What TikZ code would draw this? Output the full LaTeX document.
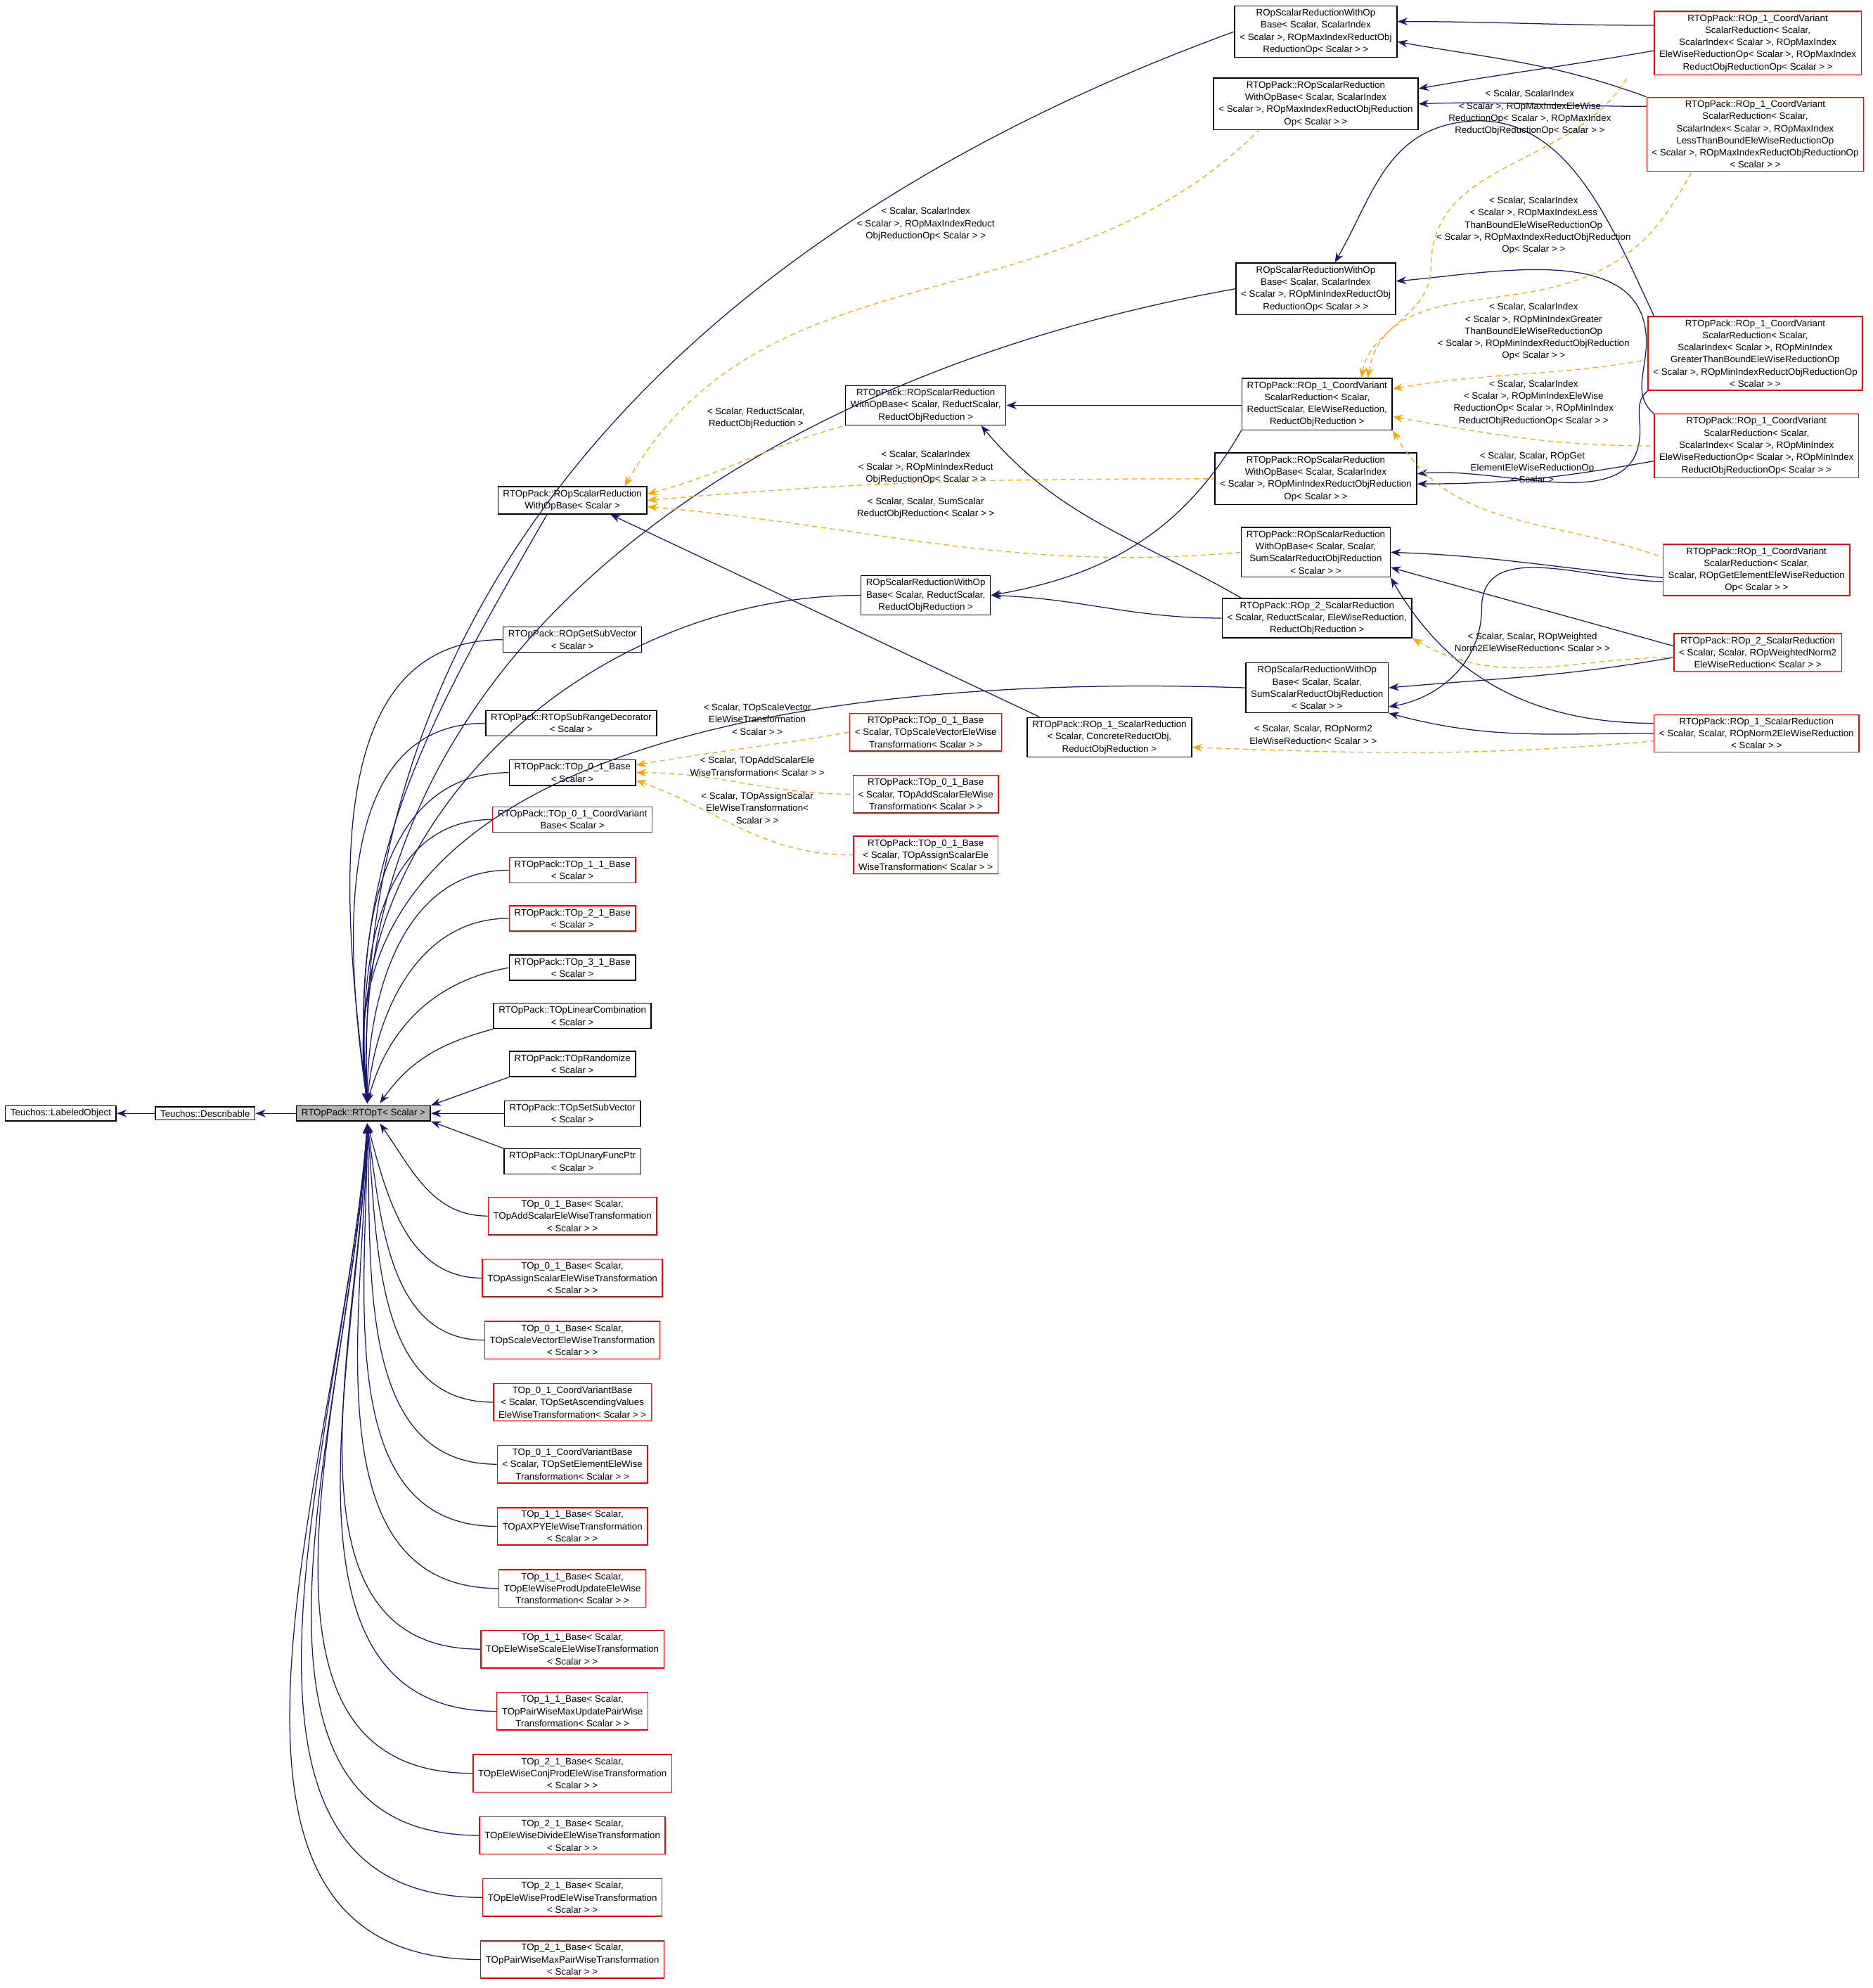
\documentclass[tikz,border=0pt]{standalone}
\usepackage{fontspec}
\setmainfont{Liberation Sans}
\usetikzlibrary{arrows.meta}
\definecolor{navy}{HTML}{191970}
\definecolor{orng}{HTML}{FFA500}
\begin{document}
\begin{tikzpicture}[x=1pt,y=1pt,
  every node/.style={font=\fontsize{7.4}{9.6}\selectfont,align=center,inner xsep=4pt,inner ysep=2.5pt},
  blk/.style={draw=black,line width=0.8pt,fill=white},
  rbox/.style={draw=red,line width=0.8pt,fill=white},
  gbox/.style={draw=black,line width=0.8pt,fill=black!30},
  lbl/.style={inner sep=0pt},
  inh/.style={draw=navy,line width=0.7pt,{Stealth[length=8pt,width=6pt]}-},
  tmpl/.style={draw=orng,line width=0.7pt,dashed,dash pattern=on 4pt off 3pt,{Stealth[length=8pt,width=6pt]}-}]
\useasboundingbox (0,0) rectangle (1479,-1569.5);
% left
\node[blk] (lab) at (48,-879) {Teuchos::LabeledObject};
\node[blk] (desc) at (162,-879) {Teuchos::Describable};
\node[gbox] (rt) at (287,-879) {RTOpPack::RTOpT< Scalar >};
\coordinate (rtt) at (290,-871);
\coordinate (rtb) at (290,-887);
% column of children
\node[blk] (rb) at (452,-395) {RTOpPack::ROpScalarReduction\\WithOpBase< Scalar >};
\node[blk] (gsv) at (452,-505) {RTOpPack::ROpGetSubVector\\< Scalar >};
\node[blk] (srd) at (451,-571) {RTOpPack::RTOpSubRangeDecorator\\< Scalar >};
\node[blk] (t01) at (452,-610) {RTOpPack::TOp\_0\_1\_Base\\< Scalar >};
\node[rbox] (t01c) at (452,-647) {RTOpPack::TOp\_0\_1\_CoordVariant\\Base< Scalar >};
\node[rbox] (t11) at (452,-687) {RTOpPack::TOp\_1\_1\_Base\\< Scalar >};
\node[rbox] (t21) at (452,-725) {RTOpPack::TOp\_2\_1\_Base\\< Scalar >};
\node[blk] (t31) at (452,-764) {RTOpPack::TOp\_3\_1\_Base\\< Scalar >};
\node[blk] (tlc) at (452,-802) {RTOpPack::TOpLinearCombination\\< Scalar >};
\node[blk] (trn) at (452,-840) {RTOpPack::TOpRandomize\\< Scalar >};
\node[blk] (tss) at (452,-879) {RTOpPack::TOpSetSubVector\\< Scalar >};
\node[blk] (tuf) at (452,-917) {RTOpPack::TOpUnaryFuncPtr\\< Scalar >};
\node[rbox] (c1) at (452,-960) {TOp\_0\_1\_Base< Scalar,\\ TOpAddScalarEleWiseTransformation\\< Scalar > >};
\node[rbox] (c2) at (452,-1009) {TOp\_0\_1\_Base< Scalar,\\ TOpAssignScalarEleWiseTransformation\\< Scalar > >};
\node[rbox] (c3) at (452,-1058) {TOp\_0\_1\_Base< Scalar,\\ TOpScaleVectorEleWiseTransformation\\< Scalar > >};
\node[rbox] (c4) at (452,-1107) {TOp\_0\_1\_CoordVariantBase\\< Scalar, TOpSetAscendingValues\\EleWiseTransformation< Scalar > >};
\node[rbox] (c5) at (452,-1156) {TOp\_0\_1\_CoordVariantBase\\< Scalar, TOpSetElementEleWise\\Transformation< Scalar > >};
\node[rbox] (c6) at (452,-1205) {TOp\_1\_1\_Base< Scalar,\\ TOpAXPYEleWiseTransformation\\< Scalar > >};
\node[rbox] (c7) at (452,-1254) {TOp\_1\_1\_Base< Scalar,\\ TOpEleWiseProdUpdateEleWise\\Transformation< Scalar > >};
\node[rbox] (c8) at (452,-1302) {TOp\_1\_1\_Base< Scalar,\\ TOpEleWiseScaleEleWiseTransformation\\< Scalar > >};
\node[rbox] (c9) at (452,-1351) {TOp\_1\_1\_Base< Scalar,\\ TOpPairWiseMaxUpdatePairWise\\Transformation< Scalar > >};
\node[rbox] (c10) at (452,-1400) {TOp\_2\_1\_Base< Scalar,\\ TOpEleWiseConjProdEleWiseTransformation\\< Scalar > >};
\node[rbox] (c11) at (452,-1449) {TOp\_2\_1\_Base< Scalar,\\ TOpEleWiseDivideEleWiseTransformation\\< Scalar > >};
\node[rbox] (c12) at (452,-1498) {TOp\_2\_1\_Base< Scalar,\\ TOpEleWiseProdEleWiseTransformation\\< Scalar > >};
\node[rbox] (c13) at (452,-1547) {TOp\_2\_1\_Base< Scalar,\\ TOpPairWiseMaxPairWiseTransformation\\< Scalar > >};
% middle column
\node[blk] (rsr) at (731,-320) {RTOpPack::ROpScalarReduction\\WithOpBase< Scalar, ReductScalar,\\ ReductObjReduction >};
\node[blk] (wsr) at (731,-470) {ROpScalarReductionWithOp\\Base< Scalar, ReductScalar,\\ ReductObjReduction >};
\node[rbox] (ts) at (731,-578) {RTOpPack::TOp\_0\_1\_Base\\< Scalar, TOpScaleVectorEleWise\\Transformation< Scalar > >};
\node[rbox] (ta) at (731,-627) {RTOpPack::TOp\_0\_1\_Base\\< Scalar, TOpAddScalarEleWise\\Transformation< Scalar > >};
\node[rbox] (tas) at (731,-675) {RTOpPack::TOp\_0\_1\_Base\\< Scalar, TOpAssignScalarEle\\WiseTransformation< Scalar > >};
\node[blk] (r1s) at (876,-582) {RTOpPack::ROp\_1\_ScalarReduction\\< Scalar, ConcreteReductObj,\\ ReductObjReduction >};
% third column
\node[blk] (wmax) at (1039,-25) {ROpScalarReductionWithOp\\Base< Scalar, ScalarIndex\\< Scalar >, ROpMaxIndexReductObj\\ReductionOp< Scalar > >};
\node[blk] (pmax) at (1039,-82) {RTOpPack::ROpScalarReduction\\WithOpBase< Scalar, ScalarIndex\\< Scalar >, ROpMaxIndexReductObjReduction\\Op< Scalar > >};
\node[blk] (wmin) at (1039,-228) {ROpScalarReductionWithOp\\Base< Scalar, ScalarIndex\\< Scalar >, ROpMinIndexReductObj\\ReductionOp< Scalar > >};
\node[blk] (rcv) at (1040,-319) {RTOpPack::ROp\_1\_CoordVariant\\ScalarReduction< Scalar,\\ ReductScalar, EleWiseReduction,\\ReductObjReduction >};
\node[blk] (pmin) at (1039,-378) {RTOpPack::ROpScalarReduction\\WithOpBase< Scalar, ScalarIndex\\< Scalar >, ROpMinIndexReductObjReduction\\Op< Scalar > >};
\node[blk] (psum) at (1039,-436) {RTOpPack::ROpScalarReduction\\WithOpBase< Scalar, Scalar,\\ SumScalarReductObjReduction\\< Scalar > >};
\node[blk] (r2s) at (1040,-488) {RTOpPack::ROp\_2\_ScalarReduction\\< Scalar, ReductScalar, EleWiseReduction,\\ ReductObjReduction >};
\node[blk] (wsum) at (1040,-543) {ROpScalarReductionWithOp\\Base< Scalar, Scalar,\\ SumScalarReductObjReduction\\< Scalar > >};
% right column
\node[rbox] (xmax) at (1388,-34) {RTOpPack::ROp\_1\_CoordVariant\\ScalarReduction< Scalar,\\ ScalarIndex< Scalar >, ROpMaxIndex\\EleWiseReductionOp< Scalar >, ROpMaxIndex\\ReductObjReductionOp< Scalar > >};
\node[rbox] (xlt) at (1386,-106) {RTOpPack::ROp\_1\_CoordVariant\\ScalarReduction< Scalar,\\ ScalarIndex< Scalar >, ROpMaxIndex\\LessThanBoundEleWiseReductionOp\\< Scalar >, ROpMaxIndexReductObjReductionOp\\< Scalar > >};
\node[rbox] (xgt) at (1386,-279) {RTOpPack::ROp\_1\_CoordVariant\\ScalarReduction< Scalar,\\ ScalarIndex< Scalar >, ROpMinIndex\\GreaterThanBoundEleWiseReductionOp\\< Scalar >, ROpMinIndexReductObjReductionOp\\< Scalar > >};
\node[rbox] (xmin) at (1387,-352) {RTOpPack::ROp\_1\_CoordVariant\\ScalarReduction< Scalar,\\ ScalarIndex< Scalar >, ROpMinIndex\\EleWiseReductionOp< Scalar >, ROpMinIndex\\ReductObjReductionOp< Scalar > >};
\node[rbox] (xge) at (1387,-450) {RTOpPack::ROp\_1\_CoordVariant\\ScalarReduction< Scalar,\\ Scalar, ROpGetElementEleWiseReduction\\Op< Scalar > >};
\node[rbox] (xwn) at (1388,-515) {RTOpPack::ROp\_2\_ScalarReduction\\< Scalar, Scalar, ROpWeightedNorm2\\EleWiseReduction< Scalar > >};
\node[rbox] (xn2) at (1387,-579) {RTOpPack::ROp\_1\_ScalarReduction\\< Scalar, Scalar, ROpNorm2EleWiseReduction\\< Scalar > >};
% basic chain
\draw[inh] (lab) -- (desc);
\draw[inh] (desc) -- (rt);
% RTOpT children above
\draw[inh] (rtt) to[out=92,in=200] (wmax.west);
\draw[inh] (rtt) to[out=93,in=190] (wmin.west);
\draw[inh] (rtt) to[out=95,in=240] ([xshift=-20]rb.south);
\draw[inh] (rtt) to[out=97,in=180] (wsr.west);
\draw[inh] (rtt) to[out=97,in=180] (gsv.west);
\draw[inh] (rtt) to[out=98,in=178] (wsum.west);
\draw[inh] (rtt) to[out=98,in=180] (srd.west);
\draw[inh] (rtt) to[out=95,in=180] (t01.west);
\draw[inh] (rtt) to[out=95,in=180] (t01c.west);
\draw[inh] (rtt) to[out=90,in=180] (t11.west);
\draw[inh] (rtt) to[out=85,in=180] (t21.west);
\draw[inh] (rtt) to[out=75,in=190] (t31.west);
\draw[inh] ([xshift=10]rtt) to[out=55,in=195] (tlc.south west);
\draw[inh] (rt.north east) -- (trn.south west);
\draw[inh] (rt) -- (tss);
\draw[inh] (rt.south east) -- (tuf.north west);
% below
\draw[inh] ([xshift=10]rtb) to[out=-55,in=180] (c1.west);
\draw[inh] (rtb) to[out=-75,in=180] (c2.west);
\draw[inh] (rtb) to[out=-82,in=180] (c3.west);
\draw[inh] (rtb) to[out=-85,in=180] (c4.west);
\draw[inh] (rtb) to[out=-88,in=180] (c5.west);
\draw[inh] (rtb) to[out=-90,in=180] (c6.west);
\draw[inh] (rtb) to[out=-91,in=180] (c7.west);
\draw[inh] (rtb) to[out=-92,in=180] (c8.west);
\draw[inh] (rtb) to[out=-92,in=180] (c9.west);
\draw[inh] (rtb) to[out=-93,in=180] (c10.west);
\draw[inh] (rtb) to[out=-93,in=180] (c11.west);
\draw[inh] (rtb) to[out=-94,in=180] (c12.west);
\draw[inh] (rtb) to[out=-94,in=180] (c13.west);
% templates of ROpScalarReductionWithOpBase<Scalar>
\draw[tmpl] ([xshift=-18]rb.north east) to[out=60,in=225] ([xshift=-45]pmax.south);
\node[lbl] (l1) at (731,-177) {< Scalar, ScalarIndex\\< Scalar >, ROpMaxIndexReduct\\ObjReductionOp< Scalar > >};
\draw[tmpl] ([yshift=5]rb.east) to[out=15,in=195] (rsr.south west);
\node[lbl] (l2) at (597,-330) {< Scalar, ReductScalar,\\ ReductObjReduction >};
\draw[tmpl] (rb.east) to[out=5,in=180] (pmin.west);
\node[lbl] (l3) at (731,-369) {< Scalar, ScalarIndex\\< Scalar >, ROpMinIndexReduct\\ObjReductionOp< Scalar > >};
\draw[tmpl] ([yshift=-5]rb.east) to[out=-5,in=185] (psum.west);
\node[lbl] (l4) at (731,-401) {< Scalar, Scalar, SumScalar\\ReductObjReduction< Scalar > >};
\draw[inh] ([xshift=30]rb.south) -- ([xshift=-55]r1s.north);
% TOp_0_1_Base templates
\draw[tmpl] ([yshift=6]t01.east) to[out=10,in=190] (ts.west);
\node[lbl] (l5) at (598,-568) {< Scalar, TOpScaleVector\\EleWiseTransformation\\< Scalar > >};
\draw[tmpl] (t01.east) to[out=0,in=180] (ta.west);
\node[lbl] (l6) at (598,-605) {< Scalar, TOpAddScalarEle\\WiseTransformation< Scalar > >};
\draw[tmpl] ([yshift=-6]t01.east) to[out=-20,in=180] (tas.west);
\node[lbl] (l7) at (598,-638) {< Scalar, TOpAssignScalar\\EleWiseTransformation<\\ Scalar > >};
% reduction chain
\draw[inh] (rsr.east) -- (rcv.west |- rsr.east);
\draw[inh] (wsr.east) to[out=10,in=240] (rcv.south west);
\draw[inh] (wsr.east) to[out=-2,in=180] (r2s.west);
\draw[inh] ([xshift=-20]rsr.south east) to[out=-50,in=150] ([xshift=-60]r2s.north);
% right column inheritance
\draw[inh] ([yshift=8]wmax.east) to[out=0,in=180] ([yshift=14]xmax.west);
\draw[inh] ([yshift=-8]wmax.east) to[out=-10,in=160] (xlt.north west);
\draw[inh] ([yshift=12]pmax.east) to[out=10,in=190] ([yshift=-6]xmax.west);
\draw[inh] (pmax.east) to[out=2,in=180] ([yshift=22]xlt.west);
\draw[inh] ([xshift=15]wmin.north) to[out=60,in=190] (1150,-97) to[out=10,in=115] ([xshift=-80]xgt.north);
\draw[inh] ([yshift=6]wmin.east) to[out=5,in=90] (1300,-270) to[out=-90,in=140] (xmin.north west);
\draw[inh] ([yshift=4]pmin.east) to[out=5,in=-90] (1295,-340) to[out=90,in=-140] (xgt.south west);
\draw[inh] ([yshift=-4]pmin.east) to[out=0,in=190] ([yshift=-12]xmin.west);
% labels of rcv templates
\draw[tmpl] ([xshift=35]rcv.north) to[out=80,in=270] (1130,-210) to[out=90,in=240] ([xshift=-20]xmax.south west);
\draw[tmpl] ([xshift=40]rcv.north) to[out=80,in=210] (1270,-210) to[out=30,in=240] ([xshift=-50]xlt.south);
\draw[tmpl] ([yshift=12]rcv.east) to[out=10,in=190] ([yshift=-5]xgt.west);
\draw[tmpl] ([yshift=-10]rcv.east) to[out=-10,in=180] (xmin.west);
\draw[tmpl] (rcv.south east) to[out=-60,in=160] ([yshift=10]xge.west);
\node[lbl] (l8) at (1208,-89) {< Scalar, ScalarIndex\\< Scalar >, ROpMaxIndexEleWise\\ReductionOp< Scalar >, ROpMaxIndex\\ReductObjReductionOp< Scalar > >};
\node[lbl] (l9) at (1211,-178) {< Scalar, ScalarIndex\\< Scalar >, ROpMaxIndexLess\\ThanBoundEleWiseReductionOp\\< Scalar >, ROpMaxIndexReductObjReduction\\Op< Scalar > >};
\node[lbl] (l10) at (1211,-262) {< Scalar, ScalarIndex\\< Scalar >, ROpMinIndexGreater\\ThanBoundEleWiseReductionOp\\< Scalar >, ROpMinIndexReductObjReduction\\Op< Scalar > >};
\node[lbl] (l11) at (1211,-318) {< Scalar, ScalarIndex\\< Scalar >, ROpMinIndexEleWise\\ReductionOp< Scalar >, ROpMinIndex\\ReductObjReductionOp< Scalar > >};
\node[lbl] (l12) at (1210,-369) {< Scalar, Scalar, ROpGet\\ElementEleWiseReductionOp\\< Scalar >};
% sum parents
\draw[inh] (psum.east) to[out=-2,in=175] ([yshift=-6]xge.west);
\draw[inh] ([yshift=-15]wsum.east) to[out=10,in=-90] (1170,-480) to[out=90,in=180] ([yshift=-9]xge.west);
\draw[inh] ([yshift=-12]psum.east) -- ([yshift=5]xwn.west);
\draw[inh] (wsum.east) to[out=5,in=190] ([yshift=-4]xwn.west);
\draw[inh] (psum.south east) to[out=-60,in=180] ([yshift=8]xn2.west);
\draw[inh] (wsum.south east) to[out=-15,in=180] (xn2.west);
\draw[tmpl] (r2s.south east) to[out=-30,in=180] ([yshift=-4]xwn.west);
\node[lbl] (l13) at (1210,-507) {< Scalar, Scalar, ROpWeighted\\Norm2EleWiseReduction< Scalar > >};
\draw[tmpl] ([yshift=-8]r1s.east) to[out=-2,in=185] ([yshift=-6]xn2.west);
\node[lbl] (l14) at (1037,-580) {< Scalar, Scalar, ROpNorm2\\EleWiseReduction< Scalar > >};
\end{tikzpicture}
\end{document}
